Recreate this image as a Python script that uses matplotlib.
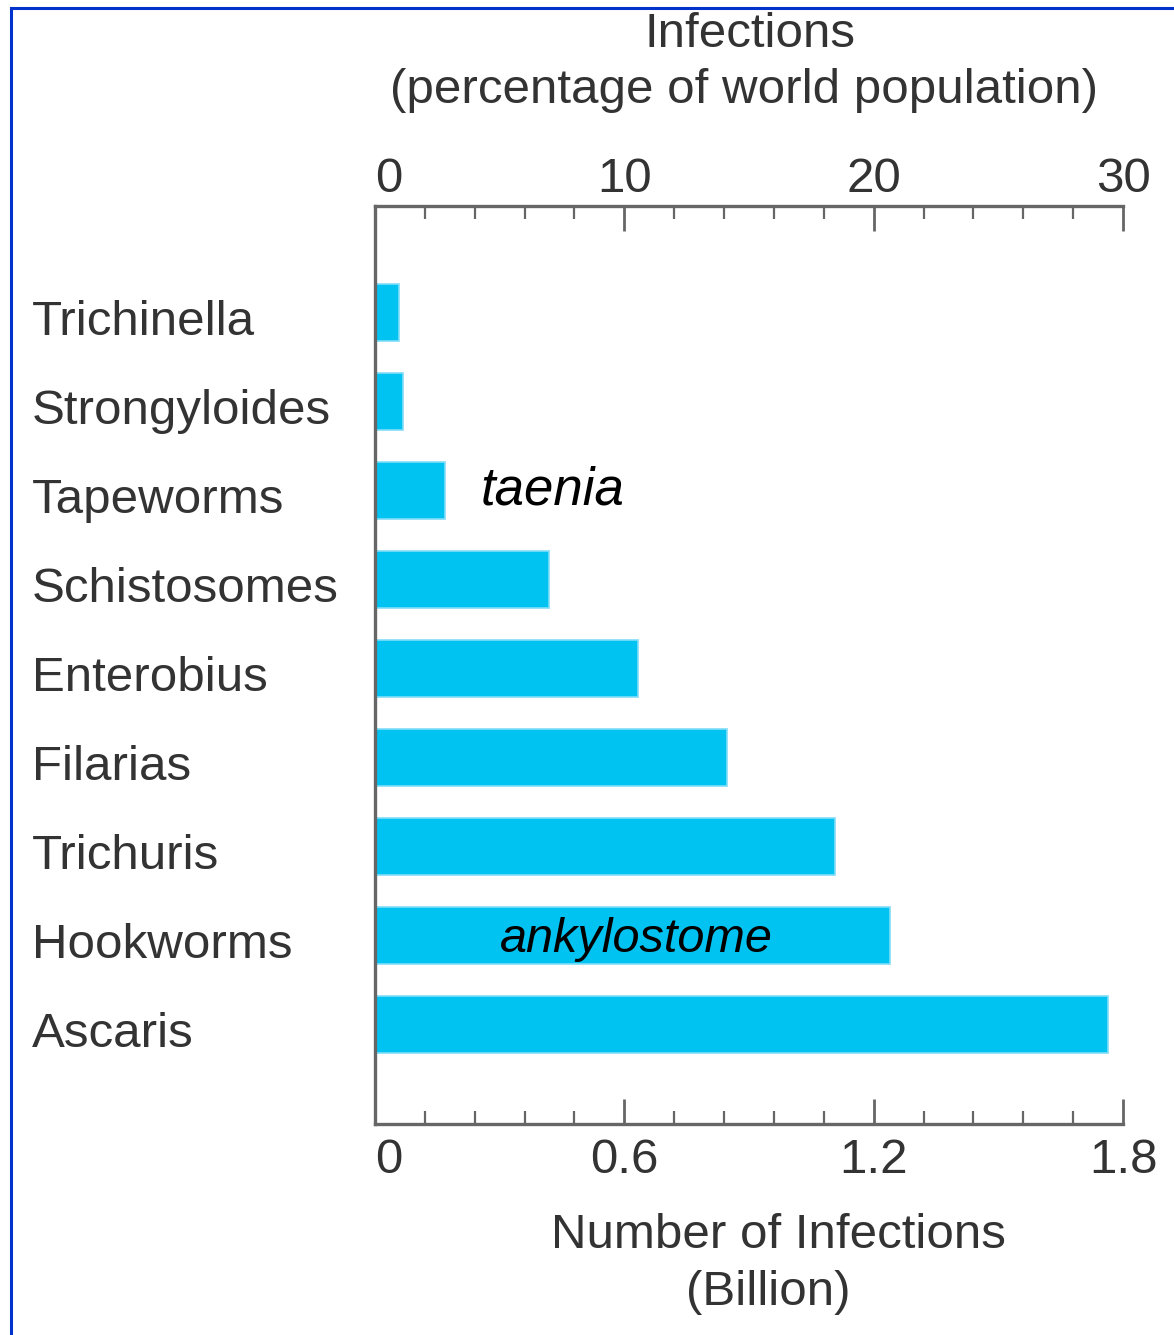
import numpy as np
import matplotlib
matplotlib.use("Agg")
import matplotlib.pyplot as plt
import matplotlib.transforms as mtransforms
from matplotlib.lines import Line2D
from matplotlib.ticker import FixedLocator

plt.rcParams["font.family"] = ["Liberation Sans", "DejaVu Sans"]

# data (billions of infections)
parasites = ["Trichinella", "Strongyloides", "Tapeworms", "Schistosomes",
             "Enterobius", "Filarias", "Trichuris", "Hookworms", "Ascaris"]
infections = [0.058, 0.067, 0.168, 0.419, 0.633, 0.847, 1.107, 1.239, 1.764]
bottom_ticks = [0, 0.6, 1.2, 1.8]
bottom_labels = ["0", "0.6", "1.2", "1.8"]
top_ticks = [0, 10, 20, 30]
top_labels = ["0", "10", "20", "30"]
note_taenia = "taenia"
note_hook = "ankylostome"

txt = "#333333"
axc = "#666666"
W, H = 1174, 1335

fig = plt.figure(figsize=(W / 100, H / 100), dpi=100)
ax = fig.add_axes([375 / W, 211 / H, 748 / W, 918 / H])

y = np.arange(len(parasites))
ax.barh(y, infections, height=0.64, color="#00C3F2", edgecolor="#80DDF8",
        linewidth=1.2, zorder=1)
ax.set_xlim(0, 1.8)
ax.set_ylim(len(parasites) - 1 + 1.12, -1.2)

# left labels, left aligned at the figure edge
ax.set_yticks(y, parasites)
ax.tick_params(axis="y", length=0, pad=247, labelsize=35.5, labelcolor=txt)
shift = mtransforms.ScaledTranslation(0, -5 / 100, fig.dpi_scale_trans)
for lab in ax.get_yticklabels():
    lab.set_ha("left")
    lab.set_transform(lab.get_transform() + shift)

# bottom axis
ax.set_xticks(bottom_ticks, bottom_labels)
ax.xaxis.set_minor_locator(FixedLocator(np.arange(0, 1.81, 0.12)))
ax.tick_params(axis="x", which="major", direction="in", length=18, width=2,
               color=axc, pad=10, labelsize=35.5, labelcolor=txt)
ax.tick_params(axis="x", which="minor", direction="in", length=9.5, width=1.6,
               color=axc)
ax.get_xticklabels()[0].set_ha("left")

for s in ["top", "right"]:
    ax.spines[s].set_visible(False)
for s in ["left", "bottom"]:
    ax.spines[s].set_color(axc)
    ax.spines[s].set_linewidth(2.4)

# top axis, percentage of world population
ax2 = ax.twiny()
ax2.set_xlim(0, 30)
ax2.set_xticks(top_ticks, top_labels)
ax2.xaxis.set_minor_locator(FixedLocator(np.arange(0, 30.1, 2)))
ax2.tick_params(axis="x", which="major", direction="in", length=18, width=2,
                color=axc, pad=3, labelsize=35.5, labelcolor=txt)
ax2.tick_params(axis="x", which="minor", direction="in", length=9.5, width=1.6,
                color=axc)
ax2.get_xticklabels()[0].set_ha("left")
for s in ["left", "right", "bottom"]:
    ax2.spines[s].set_visible(False)
ax2.spines["top"].set_color(axc)
ax2.spines["top"].set_linewidth(2.4)

# italic notes
ax.text(0.255, 2.0, note_taenia, style="italic", fontsize=38, color="black",
        va="center", ha="left", zorder=3)
ax.text(0.3, 7.05, note_hook, style="italic", fontsize=35, color="black",
        va="center", ha="left", zorder=3)

# titles
fig.text(750 / W, 1 - 47 / H, "Infections", ha="center", va="baseline",
         fontsize=35.5, color=txt)
fig.text(744 / W, 1 - 103 / H, "(percentage of world population)",
         ha="center", va="baseline", fontsize=35.5, color=txt)
fig.text(778 / W, 1 - 1248 / H, "Number of Infections", ha="center",
         va="baseline", fontsize=35.5, color=txt)
fig.text(768 / W, 1 - 1305 / H, "(Billion)", ha="center", va="baseline",
         fontsize=35.5, color=txt)

# blue frame (left and top edges)
fig.add_artist(Line2D([11 / W, 11 / W], [0, 1 - 8 / H], color="#0033CC",
                      linewidth=2.2))
fig.add_artist(Line2D([11 / W, 1], [1 - 8 / H, 1 - 8 / H], color="#0033CC",
                      linewidth=2.2))

fig.savefig("out.png", dpi=100, facecolor="white")
